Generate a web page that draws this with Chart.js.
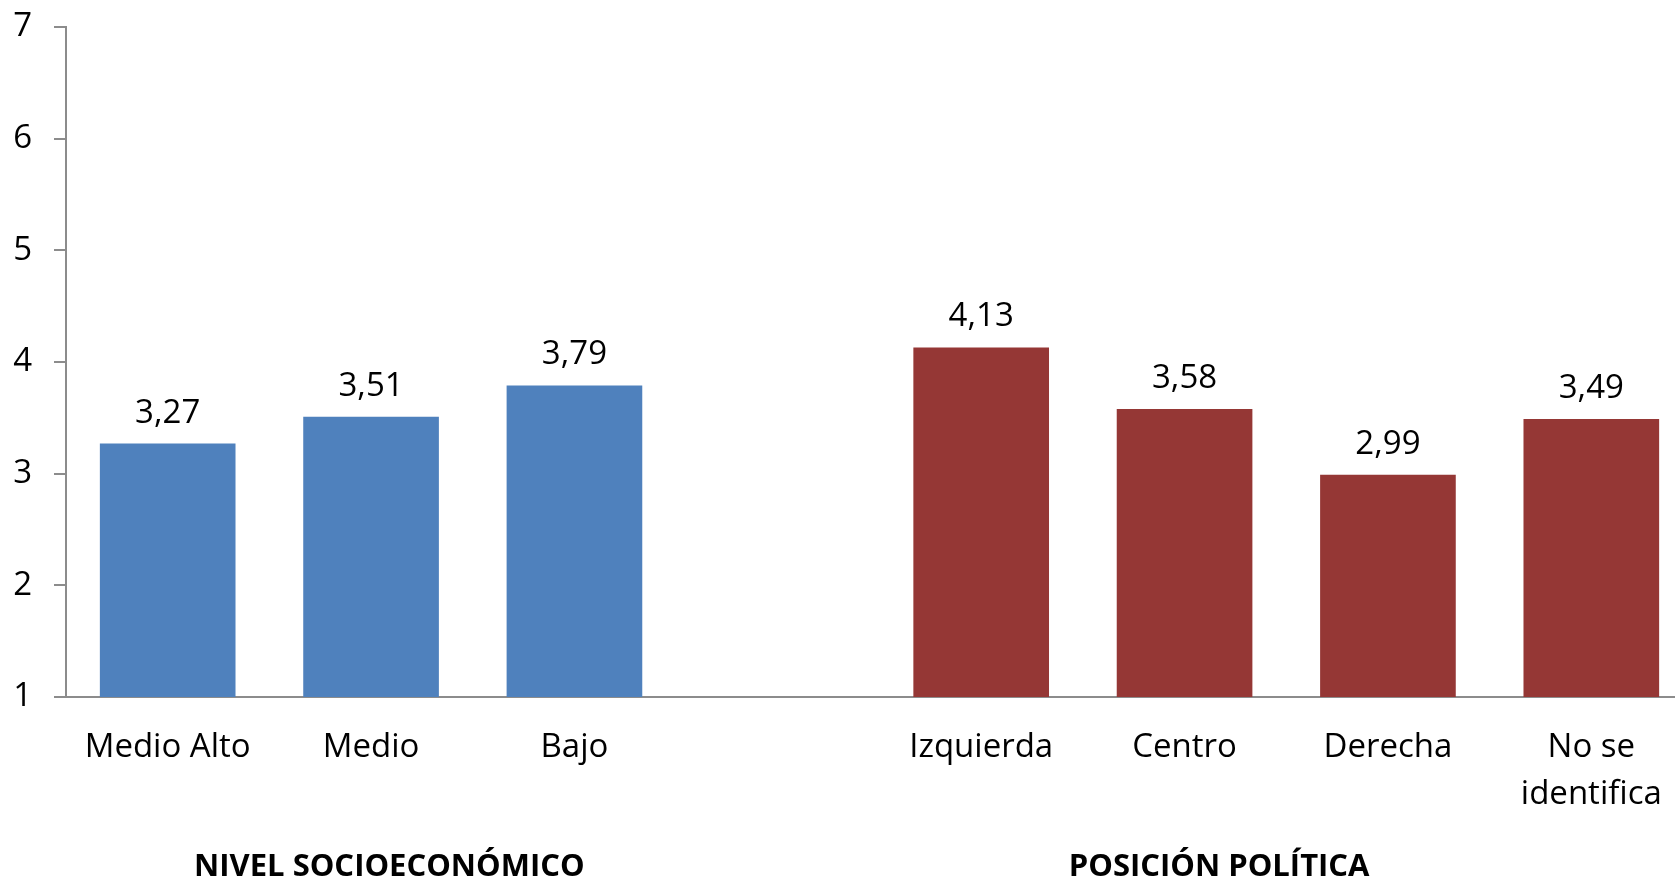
<!DOCTYPE html>
<html>
<head>
<meta charset="utf-8">
<script src="https://cdn.jsdelivr.net/npm/chart.js@4/dist/chart.umd.min.js"></script>
<style>
  html, body { margin: 0; padding: 0; background: #fff; overflow: hidden; width: 1675px; height: 885px; }
  #wrap { position: relative; width: 1694px; height: 885px; }
</style>
</head>
<body>
<div id="wrap"><canvas id="c"></canvas></div>
<script>
const categories = ['Medio Alto', 'Medio', 'Bajo', '', 'Izquierda', 'Centro', 'Derecha', ['No se', 'identifica']];
const values = [3.27, 3.51, 3.79, null, 4.13, 3.58, 2.99, 3.49];
const groups = ['socio', 'socio', 'socio', null, 'pol', 'pol', 'pol', 'pol'];
const groupColors = { socio: '#4F81BD', pol: '#953735' };
const groupTitles = ['NIVEL SOCIOECONÓMICO', 'POSICIÓN POLÍTICA'];
const groupTitlePos = [1.09, 5.17];
const yTicks = [1, 2, 3, 4, 5, 6, 7];

const FONT = "'Open Sans', 'Liberation Sans', sans-serif";
const AXIS = '#8c8c8c';

const valueLabels = {
  id: 'valueLabels',
  afterDatasetsDraw(chart) {
    const ctx = chart.ctx;
    const meta = chart.getDatasetMeta(0);
    ctx.save();
    ctx.font = '33px ' + FONT;
    ctx.fillStyle = '#000';
    ctx.textAlign = 'center';
    ctx.textBaseline = 'alphabetic';
    meta.data.forEach((bar, i) => {
      const v = values[i];
      if (v === null) return;
      ctx.fillText(v.toFixed(2).replace('.', ','), bar.x, bar.y - 21);
    });
    ctx.restore();
  }
};

const groupTitlePlugin = {
  id: 'groupTitles',
  afterDraw(chart) {
    const ctx = chart.ctx;
    const xs = chart.scales.x;
    ctx.save();
    ctx.font = 'bold 31px ' + FONT;
    ctx.fillStyle = '#000';
    ctx.textAlign = 'center';
    ctx.textBaseline = 'middle';
    groupTitles.forEach((t, i) => {
      ctx.fillText(t, xs.getPixelForValue(groupTitlePos[i]), 867);
    });
    ctx.restore();
  }
};

new Chart(document.getElementById('c'), {
  type: 'bar',
  data: {
    labels: categories,
    datasets: [{
      data: values,
      backgroundColor: groups.map(g => g ? groupColors[g] : 'rgba(0,0,0,0)'),
      borderWidth: 0,
      barPercentage: 0.667,
      categoryPercentage: 1
    }]
  },
  options: {
    responsive: true,
    maintainAspectRatio: false,
    animation: false,
    events: [],
    layout: { padding: { top: 27, right: 1, left: 0, bottom: 0 } },
    plugins: { legend: { display: false }, tooltip: { enabled: false } },
    scales: {
      x: {
        grid: { display: false, drawTicks: false },
        border: { display: true, color: AXIS, width: 2 },
        ticks: {
          font: { family: FONT, size: 33, lineHeight: 1.42 },
          color: '#000',
          padding: 27,
          maxRotation: 0,
          autoSkip: false
        },
        afterFit(scale) { scale.height = 188; }
      },
      y: {
        min: 1,
        max: 7,
        afterBuildTicks(scale) { scale.ticks = yTicks.map(v => ({ value: v })); },
        grid: { drawOnChartArea: false, drawTicks: true, tickLength: 12, color: AXIS, lineWidth: 2 },
        border: { display: true, color: AXIS, width: 2 },
        ticks: {
          font: { family: FONT, size: 33 },
          color: '#000',
          padding: 22
        },
        afterFit(scale) { scale.width = 66; scale.paddingTop = 0; scale.paddingBottom = 0; }
      }
    }
  },
  plugins: [valueLabels, groupTitlePlugin]
});
</script>
</body>
</html>
